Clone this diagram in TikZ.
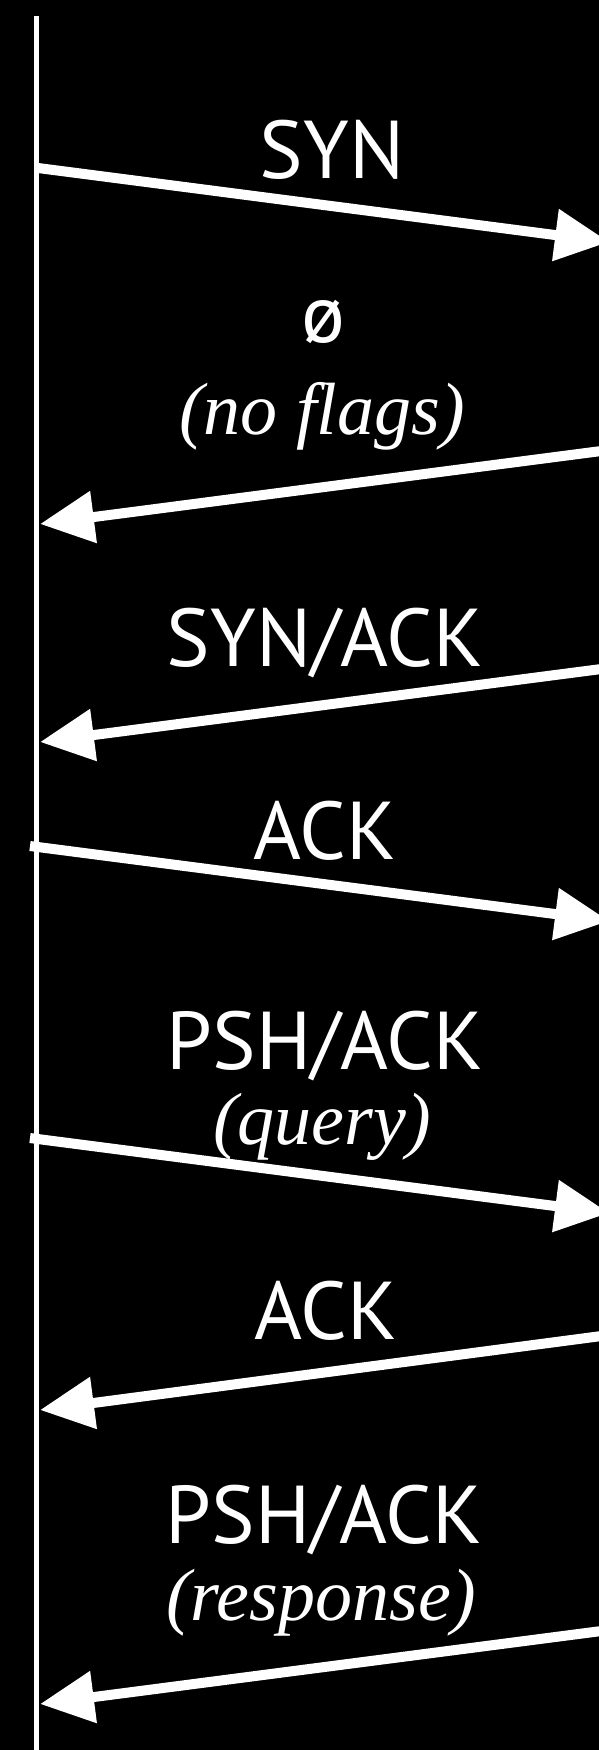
\documentclass[tikz,border=0pt]{standalone}
\usepackage{fontspec}
\newfontfamily\flagfont{PT Sans}
\newfontfamily\notefont{Liberation Serif}
\usetikzlibrary{arrows.meta}

\begin{document}
\begin{tikzpicture}[x=1pt, y=-1pt,
  msg/.style={white, line width=10pt, -{Triangle[length=54pt, width=50pt]}},
  flag/.style={white, anchor=base, inner sep=0pt, font=\fontsize{82}{90}\flagfont},
  note/.style={white, anchor=base, inner sep=0pt, font=\fontsize{74}{80}\notefont\itshape}]
  \useasboundingbox (0,0) rectangle (599,1750);
  \clip (0,0) rectangle (599,1750);
  \fill[black] (0,0) rectangle (599,1750);
  % client lifeline
  \coordinate (top) at (36.5,16);
  \coordinate (bottom) at (36.5,1750);
  \draw[white, line width=5pt] (top) -- (bottom);
  % client side (c) and cut-off server side (s)
  \coordinate (c1) at (38,168);   \coordinate (s1) at (609,242);
  \coordinate (c2) at (40,524);   \coordinate (s2) at (609,450);
  \coordinate (c3) at (40,742);   \coordinate (s3) at (609,668);
  \coordinate (c4) at (30,846);   \coordinate (s4) at (609,921);
  \coordinate (c5) at (30,1138);  \coordinate (s5) at (609,1213);
  \coordinate (c6) at (40,1410);  \coordinate (s6) at (609,1335);
  \coordinate (c7) at (40,1704);  \coordinate (s7) at (609,1630);
  \draw[msg] (c1) -- (s1);
  \draw[msg] (s2) -- (c2);
  \draw[msg] (s3) -- (c3);
  \draw[msg] (c4) -- (s4);
  \draw[msg] (c5) -- (s5);
  \draw[msg] (s6) -- (c6);
  \draw[msg] (s7) -- (c7);
  % labels
  \node[flag] (syn) at (332,178) {SYN};
  \node[flag, font=\fontsize{82}{90}\flagfont] (none) at (323,342) {ø};
  \node[note] (noflags) at (322,434) {(no flags)};
  \node[flag] (synack) at (325,666) {SYN/ACK};
  \node[flag] (ack) at (325,859) {ACK};
  \node[flag] (query) at (325,1069) {PSH/ACK};
  \node[note] (querynote) at (322,1144) {(query)};
  \node[flag] (ack2) at (326,1339) {ACK};
  \node[flag] (resp) at (324,1543) {PSH/ACK};
  \node[note] (respnote) at (321,1620) {(response)};
\end{tikzpicture}
\end{document}
